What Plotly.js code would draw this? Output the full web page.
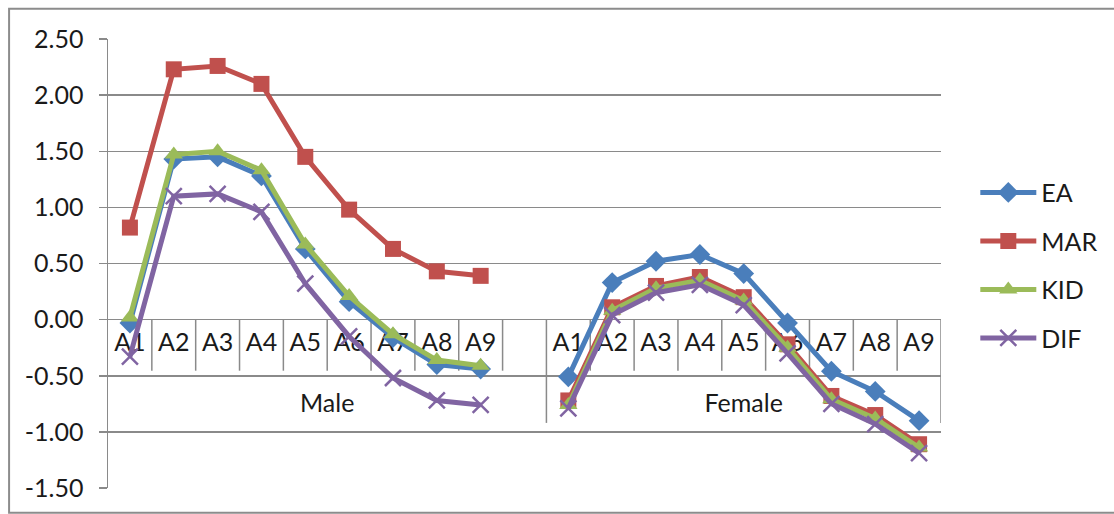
<!DOCTYPE html>
<html>
<head>
<meta charset="utf-8">
<script src="https://cdn.plot.ly/plotly-3.0.1.min.js"></script>
<style>
  html, body { margin: 0; padding: 0; background: #fff; }
  #chart { width: 1114px; height: 514px; }
</style>
</head>
<body>
<div id="chart"></div>
<script>
// ---- data ----
const categories = ['A1', 'A2', 'A3', 'A4', 'A5', 'A6', 'A7', 'A8', 'A9'];
const groups = ['Male', 'Female'];
const seriesNames = ['EA', 'MAR', 'KID', 'DIF'];

const eaMale   = [-0.03, 1.43, 1.45, 1.28, 0.63, 0.16, -0.16, -0.40, -0.44];
const marMale  = [0.82, 2.23, 2.26, 2.10, 1.45, 0.98, 0.63, 0.43, 0.39];
const kidMale  = [0.02, 1.47, 1.50, 1.33, 0.67, 0.21, -0.13, -0.36, -0.41];
const difMale  = [-0.33, 1.10, 1.12, 0.96, 0.32, -0.15, -0.52, -0.72, -0.76];

const eaFemale  = [-0.51, 0.33, 0.52, 0.58, 0.41, -0.03, -0.46, -0.64, -0.90];
const marFemale = [-0.72, 0.11, 0.30, 0.38, 0.20, -0.22, -0.68, -0.85, -1.11];
const kidFemale = [-0.76, 0.08, 0.28, 0.35, 0.17, -0.25, -0.71, -0.88, -1.14];
const difFemale = [-0.79, 0.04, 0.24, 0.31, 0.13, -0.30, -0.75, -0.93, -1.19];

const yTickValues = [-1.5, -1.0, -0.5, 0.0, 0.5, 1.0, 1.5, 2.0, 2.5];
const yTickLabels = ['-1.50', '-1.00', '-0.50', '0.00', '0.50', '1.00', '1.50', '2.00', '2.50'];

// ---- layout helpers (slot positions on the category axis) ----
// Male group: 9 categories + 1 blank slot; Female group: 9 categories
const maleSlots = categories.map((c, i) => i);
const blankSlot = categories.length;
const femaleSlots = categories.map((c, i) => categories.length + 1 + i);
const nSlots = categories.length * 2 + 1;

function seriesXY(male, female) {
  const x = [], y = [];
  male.forEach((v, i) => { x.push(maleSlots[i]); y.push(v); });
  x.push(blankSlot); y.push(null);
  female.forEach((v, i) => { x.push(femaleSlots[i]); y.push(v); });
  return { x, y };
}

const FONT = 'Lato, Carlito, Calibri, "Open Sans", sans-serif';
const TXT = '#1a1a1a';
const GRID = '#8a8a8a';

const styles = [
  { color: '#4a7ebb', symbol: 'diamond', size: 16 },
  { color: '#c0504d', symbol: 'square', size: 16 },
  { color: '#9bbb59', symbol: 'triangle-up', size: 16 },
  { color: '#8064a2', symbol: 'x-thin', size: 16 }
];
const seriesData = [
  [eaMale, eaFemale],
  [marMale, marFemale],
  [kidMale, kidFemale],
  [difMale, difFemale]
];

// category labels as a text trace (drawn below the lines)
const labelX = [], labelY = [], labelT = [];
categories.forEach((c, i) => { labelX.push(maleSlots[i]); labelY.push(-0.225); labelT.push(c); });
categories.forEach((c, i) => { labelX.push(femaleSlots[i]); labelY.push(-0.225); labelT.push(c); });
labelX.push((maleSlots[0] + blankSlot) / 2); labelY.push(-0.77); labelT.push(groups[0]);
labelX.push((femaleSlots[0] + femaleSlots[femaleSlots.length - 1]) / 2); labelY.push(-0.77); labelT.push(groups[1]);

const traces = [{
  type: 'scatter', mode: 'text',
  x: labelX, y: labelY, text: labelT,
  textposition: 'middle center',
  textfont: { family: FONT, size: 25, color: TXT },
  hoverinfo: 'skip', showlegend: false, cliponaxis: false
}];

seriesNames.forEach((name, k) => {
  const d = seriesXY(seriesData[k][0], seriesData[k][1]);
  const st = styles[k];
  traces.push({
    type: 'scatter', mode: 'lines+markers', name: name,
    legendgroup: name,
    x: d.x, y: d.y, connectgaps: false,
    line: { color: st.color, width: 5 },
    marker: {
      symbol: st.symbol, size: st.size, color: st.color,
      line: { color: st.color, width: st.symbol === 'x-thin' ? 2.5 : 0 }
    },
    cliponaxis: false
  });
});

// category separators
const shapes = [];
for (let b = 1; b <= nSlots; b++) {
  const xb = b - 0.5;
  const isGroupEdge = (b === blankSlot + 1) || (b === nSlots);
  shapes.push({
    type: 'line', xref: 'x', yref: 'y', layer: 'between',
    x0: xb, x1: xb, y0: 0, y1: isGroupEdge ? -0.92 : -0.455,
    line: { color: GRID, width: 1.5 }
  });
}
// outer chart frame
const L = 108, R = 172.3, T = 39.3, B = 25.7;
const pw = 1114 - L - R, ph = 514 - T - B;
shapes.push({
  type: 'rect', xref: 'paper', yref: 'paper', layer: 'below',
  x0: (9 - L) / pw, x1: (1125 - L) / pw,
  y0: (514 - B - 513) / ph, y1: (514 - B - 9) / ph,
  line: { color: '#8c8c8c', width: 2 }, fillcolor: 'rgba(0,0,0,0)'
});

const layout = {
  width: 1114, height: 514,
  margin: { l: L, r: R, t: T, b: B, pad: 0 },
  paper_bgcolor: '#ffffff', plot_bgcolor: '#ffffff',
  font: { family: FONT, size: 24, color: TXT },
  showlegend: true,
  legend: {
    x: (975 - L) / pw, xanchor: 'left',
    y: (514 - B - 170) / ph, yanchor: 'top',
    font: { family: FONT, size: 25, color: TXT },
    traceorder: 'grouped', tracegroupgap: 13,
    itemwidth: 56, bgcolor: 'rgba(0,0,0,0)'
  },
  xaxis: {
    type: 'linear', range: [-0.5, nSlots - 0.5],
    showgrid: false, zeroline: false, showline: false,
    showticklabels: false, ticks: '', fixedrange: true
  },
  yaxis: {
    range: [-1.5, 2.5],
    tickvals: yTickValues, ticktext: yTickLabels,
    showgrid: true, gridcolor: GRID, gridwidth: 1.5,
    zeroline: true, zerolinecolor: GRID, zerolinewidth: 1.5,
    showline: true, linecolor: GRID, linewidth: 1.5,
    ticks: 'outside', ticklen: 8, tickcolor: GRID, tickwidth: 1.5,
    ticklabelstandoff: 10,
    tickfont: { family: FONT, size: 25, color: TXT },
    fixedrange: true
  },
  shapes: shapes
};

Plotly.newPlot('chart', traces, layout, { displayModeBar: false, staticPlot: true });
</script>
</body>
</html>
